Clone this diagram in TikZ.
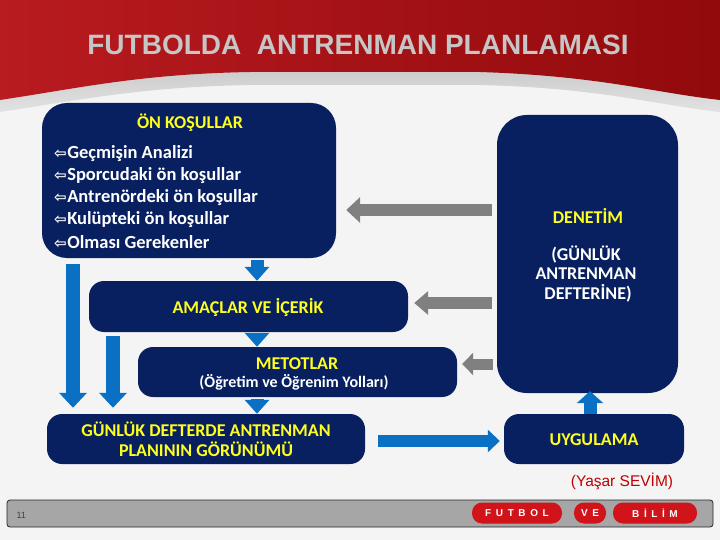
\documentclass[tikz,border=0pt]{standalone}
\usepackage{fontspec}
\setmainfont{Carlito}
\newfontfamily\arial{Liberation Sans}
\newfontfamily\dejavu{DejaVu Sans}
\usetikzlibrary{arrows.meta}
\definecolor{navy}{HTML}{082060}
\definecolor{arrblue}{HTML}{0A70C4}
\definecolor{ygold}{HTML}{FFFF1E}
\definecolor{bgcol}{HTML}{F4F4F4}
\definecolor{redA}{HTML}{B81B20}
\definecolor{redB}{HTML}{920A0C}
\definecolor{swA}{HTML}{A8A8A8}
\definecolor{swB}{HTML}{E2E2E2}
\definecolor{titlegrey}{HTML}{C6C6C6}
\definecolor{garr}{HTML}{808080}
\definecolor{footgrey}{HTML}{A6A6A6}
\definecolor{pillred}{HTML}{D0141A}
\definecolor{authred}{HTML}{C00000}
\def\myls{\hspace{4.6pt}}
\newcommand\itemarr{{\dejavu\fontsize{15}{15}\selectfont ⇦}\kern0.5pt}
\begin{document}
\begin{tikzpicture}[x=1pt,y=-1pt,
  box/.style={fill=navy, draw=none, rounded corners=15pt, inner sep=0pt},
  ytxt/.style={text=ygold, font=\fontsize{18}{20}\selectfont\bfseries, align=center, inner sep=0pt},
  wtxt/.style={text=white, font=\fontsize{18}{19.5}\selectfont\bfseries, align=center, inner sep=0pt},
  itemtxt/.style={text=white, font=\fontsize{18.5}{20}\selectfont\bfseries, anchor=west, inner sep=0pt},
  barrow/.style={draw=arrblue, line width=13pt, -{Triangle[width=24pt,length=14pt]}},
  barrowh/.style={draw=arrblue, line width=12pt, -{Triangle[width=22pt,length=12pt]}},
  garrow/.style={draw=garr, line width=12pt, -{Triangle[width=25pt,length=14pt]}},
  pill/.style={fill=pillred, rounded corners=10pt, minimum height=21pt, inner sep=0pt, text=white, font=\arial\bfseries\fontsize{10}{10}\selectfont},
]
\useasboundingbox (0,0) rectangle (720,540);
\fill[bgcol] (0,0) rectangle (720,540);
% header
\shade[top color=swA, bottom color=swB] (0,0) -- (720,0) -- (720,112) .. controls (650,104) and (600,88) .. (480,85) -- (250,85) .. controls (140,87) and (80,100) .. (0,112) -- cycle;
\shade[left color=redA, right color=redB] (0,0) -- (720,0) -- (720,100) .. controls (650,92) and (600,76) .. (480,72) -- (250,72) .. controls (140,74) and (80,88) .. (0,100) -- cycle;
\node[text=titlegrey, font=\arial\bfseries\fontsize{28}{30}\selectfont] (title) at (358,45) {FUTBOLDA\ \ ANTRENMAN PLANLAMASI};

% named coordinates for arrow columns
\coordinate (xc) at (257,0);
\coordinate (xl1) at (73,0);
\coordinate (xl2) at (113,0);
\coordinate (xu) at (590,0);
\coordinate (yg1) at (0,210);
\coordinate (yg2) at (0,303);
\coordinate (yg3) at (0,364);
\coordinate (yr) at (0,441);

% boxes
\node[box, rounded corners=25pt, minimum width=294pt, minimum height=155pt] (on) at (189,180.5) {};
\node[box, rounded corners=30pt, minimum width=181pt, minimum height=278pt] (den) at (587.5,254) {};
\node[box, minimum width=319pt, minimum height=51pt] (ama) at (248.5,306.5) {};
\node[box, minimum width=319pt, minimum height=50pt] (met) at (297.5,372) {};
\node[box, minimum width=318pt, minimum height=50pt] (gun) at (206,439) {};
\node[box, minimum width=180pt, minimum height=50pt] (uyg) at (594,439) {};

% texts
\node[ytxt] (onT) at (190,123) {ÖN KOŞULLAR};
\node[itemtxt] (i1) at (54,154) {\itemarr Geçmişin Analizi};
\node[itemtxt] (i2) at (54,176) {\itemarr Sporcudaki ön koşullar};
\node[itemtxt] (i3) at (54,198) {\itemarr Antrenördeki ön koşullar};
\node[itemtxt] (i4) at (54,220) {\itemarr Kulüpteki ön koşullar};
\node[itemtxt] (i5) at (54,242) {\itemarr Olması Gerekenler};

\node[ytxt] (amaT) at (248,307) {AMAÇLAR VE İÇERİK};
\node[ytxt] (metT) at (297,364) {METOTLAR};
\node[wtxt, font=\fontsize{16}{18}\selectfont\bfseries] (metS) at (294,382) {(Öğretim ve Öğrenim Yolları)};
\node[ytxt] (gunT) at (206,439) {GÜNLÜK DEFTERDE ANTRENMAN\\PLANININ GÖRÜNÜMÜ};
\node[ytxt] (denT) at (588,216) {DENETİM};
\node[wtxt] (denS) at (586,274) {(GÜNLÜK\\ANTRENMAN\\\ DEFTERİNE)};
\node[ytxt] (uygT) at (594,440) {UYGULAMA};

% blue arrows
\draw[barrow] ([yshift=-2pt]on.south -| xc) -- (ama.north -| xc);
\draw[barrow] ([yshift=-1pt]ama.south -| xc) -- (met.north -| xc);
\draw[barrow] ([yshift=-2pt]met.south -| xc) -- (gun.north -| xc);
\draw[barrow, line width=14pt, -{Triangle[width=27pt,length=15pt]}] ([yshift=-6pt]on.south -| xl1) -- ([yshift=6pt]gun.north -| xl1);
\draw[barrow, line width=14pt, -{Triangle[width=27pt,length=15pt]}] ([yshift=-4pt]ama.south -| xl2) -- ([yshift=6pt]gun.north -| xl2);
\draw[barrowh] ([xshift=13pt]gun.east |- yr) -- ([xshift=-4pt]uyg.west |- yr);
\draw[barrow, line width=13pt, -{Triangle[width=26pt,length=12pt]}] (uyg.north -| xu) -- ([yshift=2pt]den.south -| xu);

% grey arrows
\draw[garrow] ([xshift=-5pt]den.west |- yg1) -- ([xshift=10pt]on.east |- yg1);
\draw[garrow, -{Triangle[width=23pt,length=14pt]}] ([xshift=-5pt]den.west |- yg2) -- ([xshift=6pt]ama.east |- yg2);
\draw[garrow, line width=11pt, -{Triangle[width=22pt,length=11pt]}] ([xshift=-4pt]den.west |- yg3) -- ([xshift=5pt]met.east |- yg3);

% author
\node[text=authred, font=\arial\fontsize{15.5}{18}\selectfont] (auth) at (622,481) {(Yaşar SEVİM)};

% footer
\node[fill=footgrey, draw=black!85, line width=0.8pt, rounded corners=3pt, minimum width=706pt, minimum height=27pt, inner sep=0pt] (foot) at (360,513.5) {};
\node[text=black!75, font=\arial\fontsize{9}{9}\selectfont, anchor=west] (pnum) at (13,515) {11};
\node[pill, minimum width=90pt] (p1) at (517,513) {F\myls U\myls T\myls B\myls O\myls L};
\node[pill, minimum width=32pt] (p2) at (590,513) {V\myls E};
\node[pill, minimum width=84pt] (p3) at (655,513) {B\myls İ\myls L\myls İ\myls M};
\end{tikzpicture}
\end{document}
